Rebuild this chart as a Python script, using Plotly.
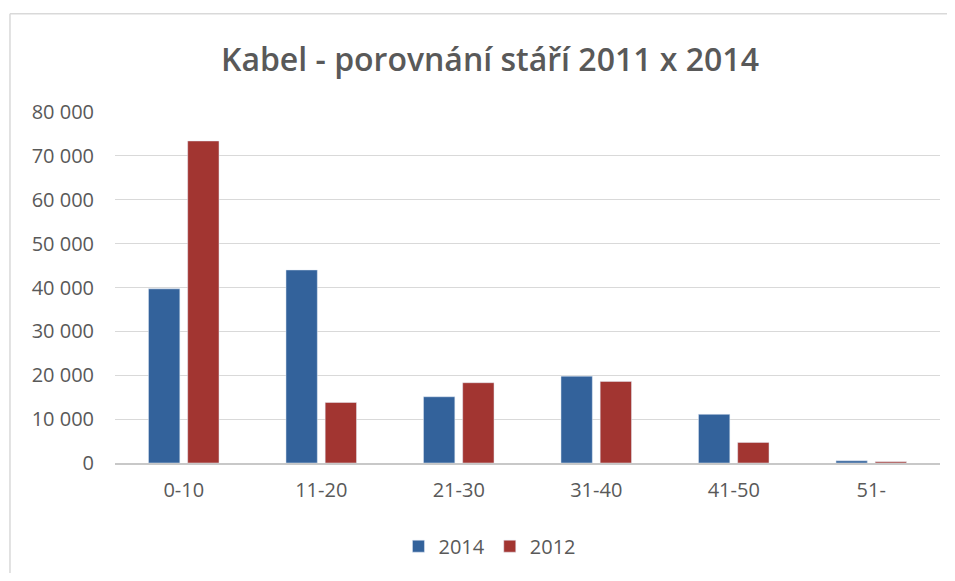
import plotly.graph_objects as go

# data
kategorie = ["0-10", "11-20", "21-30", "31-40", "41-50", "51-"]
hodnoty_2014 = [39700, 44000, 15100, 19800, 11100, 500]
hodnoty_2012 = [73400, 13800, 18300, 18600, 4700, 300]

modra = "#33629b"
cervena = "#a23531"
seda_text = "#595959"
ramecek = dict(color="#d9d9d9", width=1.5)

fig = go.Figure()
fig.add_trace(go.Bar(x=kategorie, y=hodnoty_2014, name="2014", marker_color=modra))
fig.add_trace(go.Bar(x=kategorie, y=hodnoty_2012, name="2012", marker_color=cervena))

# page body has an 8px margin on every side -> keep the figure inside the window (no scrollbars)
fig.update_layout(
    width=939,
    height=565,
    margin=dict(l=107, r=7, t=104, b=107),
    paper_bgcolor="white",
    plot_bgcolor="white",
    font=dict(family="Open Sans", color=seda_text, size=20),
    separators=", ",
    title=dict(
        text="Kabel - porovnání stáří 2011 x 2014",
        font=dict(family="Open Sans", size=32, color=seda_text, weight=600),
        xref="paper", x=0.4545, xanchor="center",
        yref="container", y=1 - 52 / 565, yanchor="middle",
    ),
    barmode="group",
    bargap=0.43,
    bargroupgap=0.2,
    legend=dict(
        orientation="h",
        x=0.4545, xanchor="center",
        y=-0.237, yanchor="middle",
        font=dict(size=20, color=seda_text),
        itemwidth=30,
    ),
    # chart frame: only the top and left edges are visible in the crop
    shapes=[
        dict(type="line", xref="paper", yref="paper",
             x0=-0.1273, x1=1.2, y0=1.2797, y1=1.2797, line=ramecek, layer="below"),
        dict(type="line", xref="paper", yref="paper",
             x0=-0.1273, x1=-0.1273, y0=-0.5, y1=1.2797, line=ramecek, layer="below"),
    ],
)

fig.update_yaxes(
    range=[0, 80000],
    dtick=10000,
    tickformat=",d",
    showgrid=True,
    gridcolor="#d9d9d9",
    gridwidth=1,
    zeroline=False,
    showline=False,
    ticklabelstandoff=20,
    tickfont=dict(size=20),
)
fig.update_xaxes(
    showline=True,
    linecolor="#c8c8c8",
    linewidth=1.5,
    ticks="",
    ticklabelstandoff=8,
    tickfont=dict(size=20),
)

fig.write_html("out.html")
